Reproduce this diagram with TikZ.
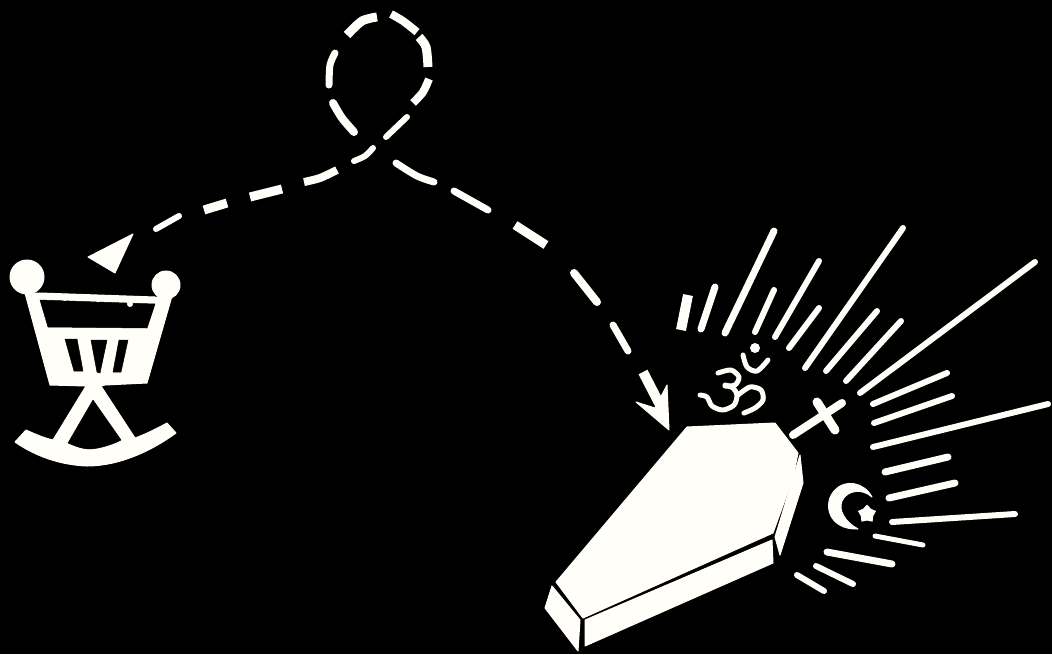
\documentclass[tikz,border=0pt]{standalone}
\usetikzlibrary{shapes.geometric}
\definecolor{ivory}{HTML}{FFFEF8}
\tikzset{
 ink/.style={draw=ivory,line cap=round,line join=round},
 solid shape/.style={fill=ivory,draw=ivory,line width=1pt,line join=round},
 hole/.style={fill=black,draw=black,line width=.5pt,line join=round},
 ray/.style={ink,line width=#1pt},
 dsh/.style={ink,line cap=butt,line width=#1pt}
}
\begin{document}
\begin{tikzpicture}[x=1pt,y=-1pt]
\fill[black] (0,0) rectangle (1052,654);
\useasboundingbox (0,0) rectangle (1052,654);
% cradle
\fill[solid shape] (27,277) circle (17);
\fill[solid shape] (166,285) circle (14);
\path[solid shape] (25,293) -- (40,293) -- (155,297) -- (157,297) -- (172,296) -- (147,383) -- (105,385) -- (101,386) -- (135,438) .. controls (146,434) and (156,429) .. (167,423) -- (176,433) .. controls (150,452) and (118,466) .. (87,466) .. controls (60,465) and (35,456) .. (15,442) -- (26,430) .. controls (35,434) and (44,438) .. (53,440) -- (86,386) -- (50,385) -- cycle;
\path[hole] (40,300) -- (155,304) -- (147,328) -- (48,327) -- cycle;
\path[hole] (93,400) -- (121,440) .. controls (110,446) and (95,449) .. (90,449) .. controls (82,449) and (75,446) .. (68,443) -- cycle;
\draw[ink,line width=2pt] (40,297) -- (155,301);
\fill[ivory] (65,299) circle (2) (98,300) circle (2.2) (130,304) circle (3);
\path[hole] (65,339) -- (77,339) -- (83,371) -- (74,371) -- cycle;
\path[hole] (91,340) -- (107,340) -- (100,373) -- (97,372) -- cycle;
\path[hole] (119,340) -- (128,340) -- (121,372) -- (113,372) -- cycle;
% dashed route to the cradle
\path[solid shape] (133,234) -- (88,257) -- (115,273) -- cycle;
\draw[ray=6] (156,229) -- (179,216);
\draw[dsh=9] (204,210) -- (227,203);
\draw[dsh=9] (250,197) -- (282,189);
\draw[dsh=8] plot[smooth] coordinates {(304,182) (320,178) (337,170)};
\draw[ray=6] plot[smooth] coordinates {(354,161) (365,156) (373,148)};
% loop
\draw[ray=6] (386,137) -- (407,117);
\draw[dsh=8] plot[smooth] coordinates {(413,103) (423,92) (429,79)};
\draw[dsh=9] plot[smooth] coordinates {(428,67) (426,47) (419,37)};
\draw[dsh=8] plot[smooth] coordinates {(417,32) (403,21) (391,14)};
\draw[dsh=9] plot[smooth] coordinates {(377,17) (362,21) (347,35)};
\draw[ray=7] plot[smooth] coordinates {(335,53) (330,65) (329,85)};
\draw[ray=8] plot[smooth] coordinates {(333,103) (342,118) (354,132)};
% dashed route to the coffin
\draw[ray=7] plot[smooth] coordinates {(396,163) (417,176) (434,182)};
\draw[ray=7] (454,191) -- (488,210);
\draw[dsh=9] (515,225) -- (546,245);
\draw[ray=8] (574,273) -- (597,302);
\draw[ray=7] (613,325) -- (628,351);
\draw[dsh=10] (643,372) -- (660,405);
\path[solid shape] (667,385) -- (669,430) -- (636,402) -- (655,408) -- cycle;
% coffin
\path[solid shape] (687,427) -- (775,423) -- (798,453) -- (793,478) -- (773,533) -- (583,618) -- (556,582) -- cycle;
\path[solid shape] (800,455) -- (803,483) -- (780,555) -- (775,537) -- (793,478) -- cycle;
\path[solid shape] (772,540) -- (773,563) -- (585,646) -- (585,620) -- cycle;
\path[solid shape] (552,586) -- (580,620) -- (578,651) -- (545,608) -- cycle;
% rays
\draw[dsh=10] (688,295) -- (681,330);
\draw[ray=7] (715,287) -- (701,329);
\draw[ray=7] (774,231) -- (725,333);
\draw[ray=6] (774,290) -- (755,332);
\draw[ray=6] (819,261) -- (775,337);
\draw[ray=6] (819,308) -- (789,348);
\draw[ray=6] (903,228) -- (805,368);
\draw[ray=6] (877,311) -- (826,371);
\draw[ray=6] (901,321) -- (846,381);
\draw[ray=6] (1035,262) -- (860,393);
\draw[ray=6] (947,373) -- (873,404);
\draw[ray=6] (952,396) -- (874,423);
\draw[ray=6] (1048,404) -- (873,447);
\draw[ray=7] (948,457) -- (885,472);
\draw[ray=7] (955,483) -- (889,498);
\draw[ray=6] (1015,514) -- (892,522);
\draw[ray=5] (923,545) -- (875,536);
\draw[ray=7] (892,564) -- (827,552);
\draw[ray=6] (853,584) -- (816,566);
\draw[ray=6] (824,591) -- (797,575);
% cross
\draw[ray=8] (793,435) -- (842,403);
\draw[ray=9] (817,402) -- (835,430);
% om
\draw[ray=5] plot[smooth] coordinates {(700,395) (707,397) (712,406) (723,410) (734,405) (737,395) (733,388) (725,385)};
\draw[ray=5] plot[smooth] coordinates {(718,373) (731,370) (739,377) (735,385) (725,386)};
\draw[ray=5] plot[smooth] coordinates {(738,395) (750,387) (761,390) (763,400) (755,408) (744,413)};
\draw[ray=5] plot[smooth] coordinates {(743,355) (747,367) (757,371) (768,360)};
\fill[ivory] (755,348) circle (5);
% crescent and star
\path[solid shape] (872,497) .. controls (864,482) and (845,479) .. (835,490) .. controls (822,503) and (828,530) .. (858,529) .. controls (845,522) and (838,510) .. (842,501) .. controls (847,490) and (862,488) .. (872,497) -- cycle;
\node[star,star points=5,star point ratio=1.45,fill=ivory,minimum size=19pt,inner sep=0pt] (crescentstar) at (867,514) {};
\end{tikzpicture}
\end{document}
